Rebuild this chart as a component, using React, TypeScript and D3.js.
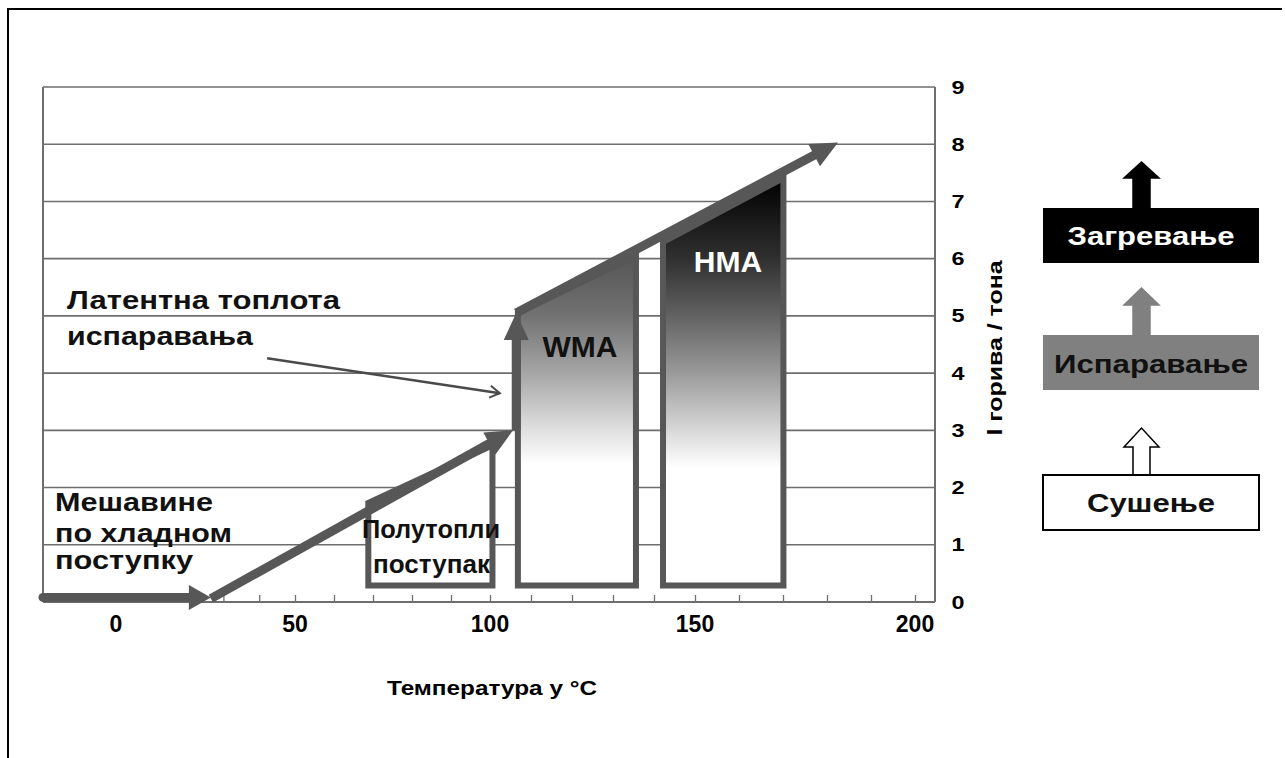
import React, { useEffect, useRef } from 'react';
import * as d3 from 'd3';

// x axis (°C): labelled ticks and minor ticks
const xLabels = [0, 50, 100, 150, 200];
const xMinorTicks = d3.range(0, 201, 10);
// y axis (l goriva / tona)
const yTicks = [0, 1, 2, 3, 4, 5, 6, 7, 8, 9];

// thick heat-flow arrow, segment ends in (°C, l/t)
const flowSegments = [
  { x0: -20.4, y0: 0.08, x1: 26.5, y1: 0.08 },
  { x0: 26.5, y0: 0.06, x1: 105.6, y1: 3.0 },
  { x0: 106.4, y0: 3.0, x1: 106.4, y1: 5.05 },
  { x0: 106.4, y0: 5.05, x1: 182.5, y1: 8.03 },
];

// process regions: temperature span and top edge values
const boxNames = ['Полутопли поступак', 'WMA', 'HMA'];
const boxX0 = [68.8, 106.8, 142.2];
const boxX1 = [100.6, 135.6, 170.1];
const boxTop0 = [1.73, 5.05, 6.29];
const boxTop1 = [2.74, 6.05, 7.41];
const boxBase = 0.29;

// latent heat pointer (°C, l/t)
const pointerFrom = [42.2, 4.26];
const pointerTo = [102.4, 3.65];

const FONT = '"Liberation Sans", Arial, Helvetica, sans-serif';

const App: React.FC = () => {
  const svgRef = useRef<SVGSVGElement>(null);

  useEffect(() => {
    document.body.style.margin = '0';
    if (!svgRef.current) return;
    const svg = d3.select(svgRef.current);
    svg.selectAll('*').remove();

    const x = d3.scaleLinear().domain(xLabels).range([116, 295, 490, 695, 915]);
    const y = d3.scaleLinear().domain([0, 9]).range([602, 87]);
    const left = 43;
    const right = 935;
    const grey = '#575757';

    const defs = svg.append('defs');
    const grad = (id: string, stops: [number, string][]) => {
      const lg = defs.append('linearGradient')
        .attr('id', id)
        .attr('gradientUnits', 'userSpaceOnUse')
        .attr('x1', 0).attr('x2', 0)
        .attr('y1', y(stops[0][0])).attr('y2', y(stops[stops.length - 1][0]));
      const y1 = y(stops[0][0]);
      const y2 = y(stops[stops.length - 1][0]);
      stops.forEach(([v, c]) => {
        lg.append('stop').attr('offset', (y(v) - y1) / (y2 - y1)).attr('stop-color', c);
      });
    };
    grad('wmaGrad', [[6.05, '#555555'], [5, '#727272'], [4, '#a6a6a6'], [3, '#e0e0e0'], [2.4, '#ffffff']]);
    grad('hmaGrad', [[7.41, '#000000'], [6, '#303030'], [5, '#626262'], [4, '#9a9a9a'], [3, '#d8d8d8'], [2.35, '#ffffff']]);

    // outer frame
    svg.append('path')
      .attr('d', 'M8,758V9H1282')
      .attr('fill', 'none')
      .attr('stroke', '#000')
      .attr('stroke-width', 2);

    // gridlines
    svg.append('g')
      .selectAll('line')
      .data(yTicks.filter(d => d > 0))
      .enter()
      .append('line')
      .attr('x1', left).attr('x2', right)
      .attr('y1', d => y(d)).attr('y2', d => y(d))
      .attr('stroke', '#6e6e6e')
      .attr('stroke-width', 1.6);

    svg.append('path')
      .attr('d', `M${left},${y(0)}V${y(9)}M${right},${y(9)}V${y(0)}`)
      .attr('stroke', '#6e6e6e')
      .attr('stroke-width', 2)
      .attr('fill', 'none');

    // x axis: minor ticks pointing up
    const xAxis = svg.append('g')
      .attr('transform', `translate(0,${y(0)})`)
      .call(d3.axisBottom(x).tickValues(xMinorTicks).tickSize(-7).tickFormat(() => ''));
    xAxis.select('.domain').remove();
    xAxis.selectAll('.tick line').attr('stroke', '#6e6e6e').attr('stroke-width', 1.3);
    svg.append('line')
      .attr('x1', left).attr('x2', right)
      .attr('y1', y(0)).attr('y2', y(0))
      .attr('stroke', '#6e6e6e').attr('stroke-width', 2);

    svg.append('g')
      .selectAll('text')
      .data(xLabels)
      .enter()
      .append('text')
      .attr('x', d => x(d))
      .attr('y', 632)
      .attr('text-anchor', 'middle')
      .attr('font-family', FONT)
      .attr('font-weight', 'bold')
      .attr('font-size', 23)
      .text(d => d);

    // y axis labels on the right
    svg.append('g')
      .selectAll('text')
      .data(yTicks)
      .enter()
      .append('text')
      .attr('x', 958)
      .attr('y', d => y(d) + 6.5)
      .attr('text-anchor', 'middle')
      .attr('font-family', FONT)
      .attr('font-weight', 'bold')
      .attr('font-size', 18)
      .attr('textLength', 13)
      .attr('lengthAdjust', 'spacingAndGlyphs')
      .text(d => d);

    svg.append('text')
      .attr('transform', 'translate(1002,348) rotate(-90)')
      .attr('text-anchor', 'middle')
      .attr('font-family', FONT)
      .attr('font-weight', 'bold')
      .attr('font-size', 20)
      .attr('textLength', 175)
      .attr('lengthAdjust', 'spacingAndGlyphs')
      .text('l горива / тона');

    svg.append('text')
      .attr('x', 387)
      .attr('y', 695)
      .attr('font-family', FONT)
      .attr('font-weight', 'bold')
      .attr('font-size', 21)
      .attr('textLength', 210)
      .attr('lengthAdjust', 'spacingAndGlyphs')
      .text('Температура у °C');

    // process boxes
    const fills = ['#ffffff', 'url(#wmaGrad)', 'url(#hmaGrad)'];
    svg.append('g')
      .selectAll('path')
      .data(boxNames)
      .enter()
      .append('path')
      .attr('d', (_, i) => {
        const pts: [number, number][] = [
          [x(boxX0[i]), y(boxBase)],
          [x(boxX0[i]), y(boxTop0[i])],
          [x(boxX1[i]), y(boxTop1[i])],
          [x(boxX1[i]), y(boxBase)],
        ];
        return d3.line()(pts) + 'Z';
      })
      .attr('fill', (_, i) => fills[i])
      .attr('stroke', grey)
      .attr('stroke-width', 6)
      .attr('stroke-linejoin', 'miter');

    // thick flow arrow
    const flow = svg.append('g');
    flowSegments.forEach((s, i) => {
      const p0 = [x(s.x0), y(s.y0)];
      const p1 = [x(s.x1), y(s.y1)];
      const dx = p1[0] - p0[0];
      const dy = p1[1] - p0[1];
      const L = Math.hypot(dx, dy);
      const ux = dx / L, uy = dy / L;
      const nx = -uy, ny = ux;
      const headLen = i === 0 ? 22 : 27;
      const headHalf = 12.5;
      const bx = p1[0] - ux * headLen;
      const by = p1[1] - uy * headLen;
      flow.append('line')
        .attr('x1', p0[0]).attr('y1', p0[1])
        .attr('x2', bx + ux * 2).attr('y2', by + uy * 2)
        .attr('stroke', grey)
        .attr('stroke-width', 9)
        .attr('stroke-linecap', i === 0 ? 'round' : 'butt');
      flow.append('path')
        .attr('d', `M${p1[0]},${p1[1]}L${bx + nx * headHalf},${by + ny * headHalf}L${bx - nx * headHalf},${by - ny * headHalf}Z`)
        .attr('fill', grey);
    });

    // latent heat pointer
    {
      const p0 = [x(pointerFrom[0]), y(pointerFrom[1])];
      const p1 = [x(pointerTo[0]), y(pointerTo[1])];
      const dx = p1[0] - p0[0];
      const dy = p1[1] - p0[1];
      const L = Math.hypot(dx, dy);
      const ux = dx / L, uy = dy / L;
      const nx = -uy, ny = ux;
      const hb = [p1[0] - ux * 10, p1[1] - uy * 10];
      svg.append('line')
        .attr('x1', p0[0]).attr('y1', p0[1])
        .attr('x2', p1[0]).attr('y2', p1[1])
        .attr('stroke', '#4a4a4a')
        .attr('stroke-width', 2.5);
      svg.append('path')
        .attr('d', `M${hb[0] + nx * 6},${hb[1] + ny * 6}L${p1[0]},${p1[1]}L${hb[0] - nx * 6},${hb[1] - ny * 6}`)
        .attr('fill', 'none')
        .attr('stroke', '#4a4a4a')
        .attr('stroke-width', 2);
    }

    // chart annotations
    const notes = [
      { text: 'Латентна топлота', x: 67, y: 309, w: 273 },
      { text: 'испаравања', x: 67, y: 345, w: 186 },
      { text: 'Мешавине', x: 55, y: 511, w: 158 },
      { text: 'по хладном', x: 55, y: 542, w: 177 },
      { text: 'поступку', x: 55, y: 569, w: 138 },
      { text: 'Полутопли', x: 362, y: 538, w: 138 },
      { text: 'поступак', x: 373, y: 573, w: 117 },
    ];
    svg.append('g')
      .selectAll('text')
      .data(notes)
      .enter()
      .append('text')
      .attr('x', d => d.x)
      .attr('y', d => d.y)
      .attr('font-family', FONT)
      .attr('font-weight', 'bold')
      .attr('font-size', 25)
      .attr('textLength', d => d.w)
      .attr('lengthAdjust', 'spacingAndGlyphs')
      .attr('fill', '#111')
      .text(d => d.text);

    svg.append('text')
      .attr('x', 580).attr('y', 357)
      .attr('text-anchor', 'middle')
      .attr('font-family', FONT)
      .attr('font-weight', 'bold')
      .attr('font-size', 30)
      .attr('fill', '#111')
      .text('WMA');
    svg.append('text')
      .attr('x', 728).attr('y', 272)
      .attr('text-anchor', 'middle')
      .attr('font-family', FONT)
      .attr('font-weight', 'bold')
      .attr('font-size', 30)
      .attr('fill', '#fff')
      .text('HMA');

    // stage legend on the right
    const stages = [
      { text: 'Загревање', top: 208, tip: 162, headBase: 178, fill: '#000', color: '#fff', w: 167, base: 245 },
      { text: 'Испаравање', top: 335, tip: 288, headBase: 305, fill: '#808080', color: '#111', w: 194, base: 373 },
      { text: 'Сушење', top: 475, tip: 428, headBase: 447, fill: '#fff', color: '#111', w: 128, base: 512 },
    ];
    const lg = svg.append('g');
    stages.forEach(s => {
      const cx = 1141.5;
      const sw = 8.5;
      const hw = 17.5;
      lg.append('path')
        .attr('d', `M${cx - sw},${s.top}V${s.headBase}H${cx - hw}L${cx},${s.tip}L${cx + hw},${s.headBase}H${cx + sw}V${s.top}`)
        .attr('fill', s.fill)
        .attr('stroke', s.fill === '#fff' ? '#000' : s.fill)
        .attr('stroke-width', 1.5);
      lg.append('rect')
        .attr('x', 1043).attr('y', s.top)
        .attr('width', 216).attr('height', 55)
        .attr('fill', s.fill)
        .attr('stroke', s.fill === '#fff' ? '#000' : 'none')
        .attr('stroke-width', 2);
      lg.append('text')
        .attr('x', 1151).attr('y', s.base)
        .attr('text-anchor', 'middle')
        .attr('font-family', FONT)
        .attr('font-weight', 'bold')
        .attr('font-size', 26)
        .attr('textLength', s.w)
        .attr('lengthAdjust', 'spacingAndGlyphs')
        .attr('fill', s.color)
        .text(s.text);
    });
  }, []);

  return (
    <svg ref={svgRef} width={1285} height={758} style={{ display: 'block', background: '#fff' }}></svg>
  );
};

export default App;
